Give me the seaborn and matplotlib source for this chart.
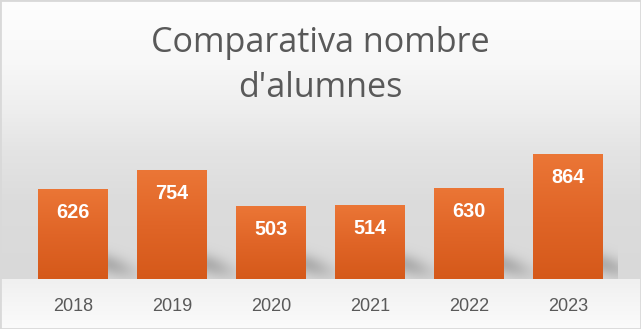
import numpy as np
import matplotlib
matplotlib.use("Agg")
import matplotlib.pyplot as plt
import seaborn as sns
import pandas as pd
from matplotlib.colors import LinearSegmentedColormap
from matplotlib.patches import Rectangle

# --- data -------------------------------------------------------------
years = ["2018", "2019", "2020", "2021", "2022", "2023"]
alumnes = [626, 754, 503, 514, 630, 864]
title_lines = ["Comparativa nombre", "d'alumnes"]

# --- figure geometry (pixels) ----------------------------------------
W, H, DPI = 641, 329, 100
plot_left, plot_right = 23.5, 617.5
baseline = 279.0
ymax = 1000
px_per_unit = 0.1445
plot_top = baseline - ymax * px_per_unit

sns.set_theme(style="white")
plt.rcParams["font.family"] = ["Liberation Sans", "DejaVu Sans"]

fig = plt.figure(figsize=(W / DPI, H / DPI), dpi=DPI)
fig.patch.set_facecolor("white")

bg_ax = fig.add_axes([0, 0, 1, 1], zorder=0)
bg_ax.set_axis_off()

ax = fig.add_axes([plot_left / W, (H - baseline) / H,
                   (plot_right - plot_left) / W, (baseline - plot_top) / H],
                  zorder=1)
ax.patch.set_alpha(0)

df = pd.DataFrame({"any": years, "alumnes": alumnes})
sns.barplot(data=df, x="any", y="alumnes", ax=ax, width=70 / 99,
            color="#E97132", saturation=1, errorbar=None)
ax.set_xlim(-0.5, len(years) - 0.5)
ax.set_ylim(0, ymax)
ax.set_xlabel("")
ax.set_ylabel("")
ax.set_yticks([])
sns.despine(ax=ax, left=True, bottom=True)
ax.tick_params(axis="x", length=0, pad=14, labelsize=13, labelcolor="#595959")

# vertical orange gradient inside every bar
bars = list(ax.patches)
grad_cmap = LinearSegmentedColormap.from_list("bar", ["#D5591A", "#E06527", "#EB7636"])
grad = np.linspace(0, 1, 256).reshape(-1, 1)
for p in bars:
    x0, y0 = p.get_x(), p.get_y()
    w, h = p.get_width(), p.get_height()
    im = ax.imshow(grad, cmap=grad_cmap, origin="lower",
                   extent=[x0, x0 + w, y0, y0 + h], aspect="auto",
                   interpolation="bilinear", zorder=2)
    im.set_clip_path(p)
    p.set_facecolor("none")
    p.set_edgecolor("none")
ax.set_xlim(-0.5, len(years) - 0.5)
ax.set_ylim(0, ymax)

# value labels inside the bars
for i, v in enumerate(alumnes):
    ax.annotate(f"{v}", xy=(i, v), xytext=(0, -29), textcoords="offset pixels",
                ha="center", va="baseline", color="white", fontsize=14.3,
                fontweight="bold", zorder=3)

# --- background: grey gradient with soft shadows beside the bars ------
rows = np.arange(H) + 0.5
cols = np.arange(W) + 0.5
upper = np.interp(rows, [0, 60, 110, 150, 200, 279], [254, 248, 238, 228, 220, 217])
lower = np.interp(rows, [279, 329], [240, 251])
shade_col = np.where(rows < baseline, upper, lower) / 255.0
bg = np.repeat(shade_col[:, None], W, axis=1)

X, Y = np.meshgrid(cols, rows)
shadow = np.zeros((H, W))
for p in bars:
    bb = p.get_window_extent()
    xr = bb.x1
    base = H - bb.y0
    dx = np.clip(X - xr, 0, None)
    cy = base - 15 + 0.3 * dx
    a = 0.2 * np.exp(-(dx / 26.0) ** 2) * np.exp(-0.5 * ((Y - cy) / 7.5) ** 2)
    a[(X < xr) | (Y > base) | (X > plot_right)] = 0
    shadow = np.maximum(shadow, a)
bg = bg * (1 - shadow)

bg_ax.imshow(np.dstack([bg, bg, bg]), extent=[0, W, H, 0], aspect="auto",
             interpolation="nearest")
bg_ax.set_xlim(0, W)
bg_ax.set_ylim(H, 0)

# --- title ------------------------------------------------------------
title_family = ["Open Sans", "Liberation Sans", "DejaVu Sans"]
for line, yb in zip(title_lines, [52, 97]):
    fig.text(0.5, 1 - yb / H, line, ha="center", va="baseline",
             fontsize=24.6, color="#595959", family=title_family)

# chart border
fig.patches.append(Rectangle((0, 0), 1, 1, transform=fig.transFigure,
                             fill=False, ec="#d9d9d9", lw=2))

fig.savefig("out.png", dpi=DPI)
